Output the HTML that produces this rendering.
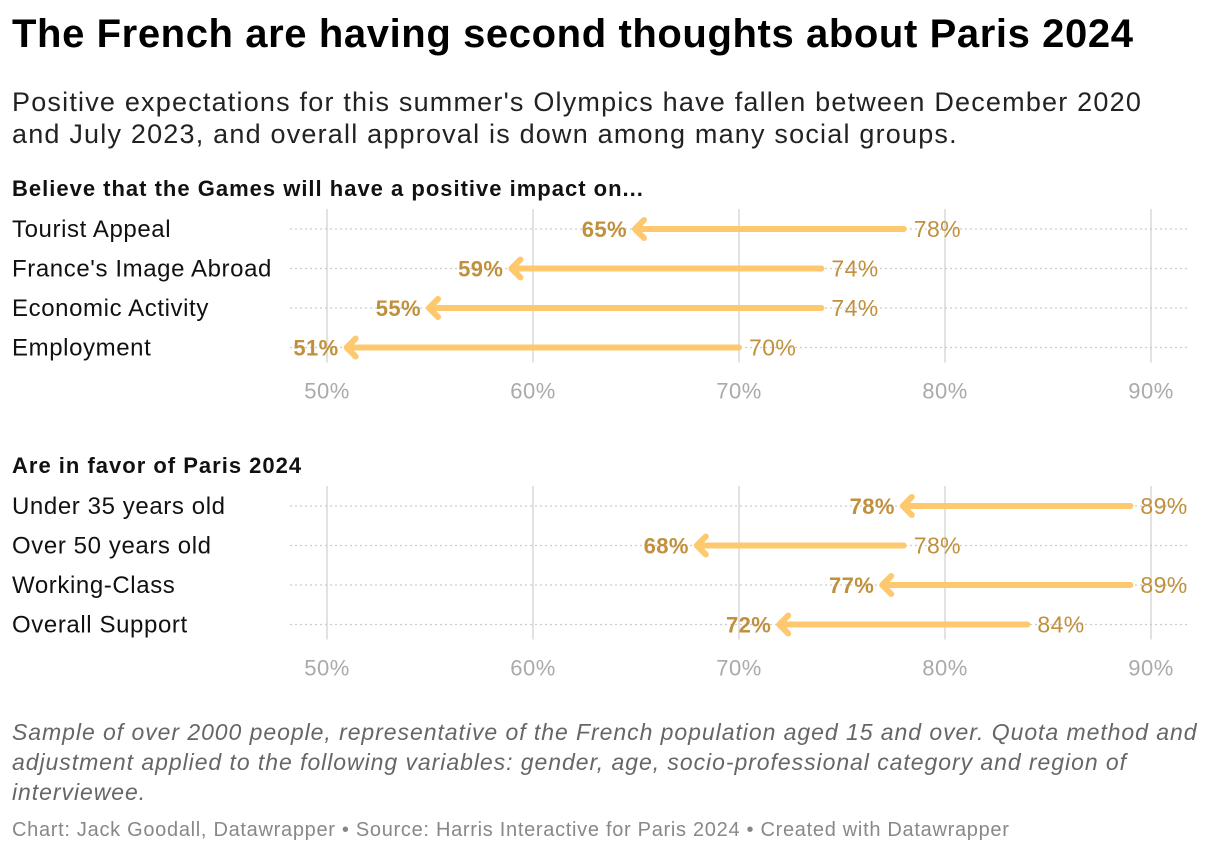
<!DOCTYPE html>
<html><head><meta charset="utf-8"><style>
body{margin:0;width:1220px;height:854px;background:#fff;font-family:"Liberation Sans",sans-serif;overflow:hidden;position:relative}
.t{position:absolute;white-space:nowrap}
</style></head><body>
<div class="t" style="left:12px;top:12px;font-size:40px;letter-spacing:0.6px;font-weight:bold;color:#000">The French are having second thoughts about Paris 2024</div>
<div class="t" style="left:12px;top:86px;font-size:27px;letter-spacing:1.2px;line-height:32px;color:#222">Positive expectations for this summer's Olympics have fallen between December 2020<br>and July 2023, and overall approval is down among many social groups.</div>
<div class="t" style="left:12px;top:717px;font-size:23px;letter-spacing:0.95px;line-height:30px;font-style:italic;color:#666">Sample of over 2000 people, representative of the French population aged 15 and over. Quota method and<br>adjustment applied to the following variables: gender, age, socio-professional category and region of<br>interviewee.</div>
<div class="t" style="left:12px;top:819px;font-size:20px;letter-spacing:0.7px;color:#888">Chart: Jack Goodall, Datawrapper • Source: Harris Interactive for Paris 2024 • Created with Datawrapper</div>
<svg id="c" width="1220" height="854" style="position:absolute;left:0;top:0"></svg>
<script>
const cats1=["Tourist Appeal","France's Image Abroad","Economic Activity","Employment"];
const from1=[78,74,74,70];
const to1=[65,59,55,51];
const cats2=["Under 35 years old","Over 50 years old","Working-Class","Overall Support"];
const from2=[89,78,89,84];
const to2=[78,68,77,72];
const ticks=[50,60,70,80,90];
const titles=["Believe that the Games will have a positive impact on...","Are in favor of Paris 2024"];
const svg=document.getElementById('c');const NS='http://www.w3.org/2000/svg';
const x=v=>327+(v-50)*20.6;
function mk(t,a,p){const e=document.createElementNS(NS,t);for(const k in a)e.setAttribute(k,a[k]);(p||svg).appendChild(e);return e;}
function panel(i,cats,from,to,top){
 const g=mk('g',{});
 
 
 const tt=mk('text',{x:12,y:top-1,'font-size':22,'letter-spacing':1,'font-weight':'bold',fill:'#111'},g);tt.textContent=titles[i];
 
 
 const y0=top+32,step=39.5;
 ticks.forEach(t=>{const l=mk('line',{x1:x(t),x2:x(t),y1:top+12,y2:y0+3*step+15,stroke:'#e2e2e2','stroke-width':2},g);
  
  
  const tx=mk('text',{x:x(t),y:y0+3*step+51,'font-size':22,'letter-spacing':0.5,fill:'#aaa','text-anchor':'middle'},g);tx.textContent=t+'%';
  
  });
 cats.forEach((c,j)=>{const y=y0+j*step;
  const gl=mk('line',{x1:290,x2:1188,y1:y,y2:y,stroke:'#ccc','stroke-width':1.2,'stroke-dasharray':'2 3'},g);
  
  
  const lb=mk('text',{x:12,y:y+8,'font-size':24,'letter-spacing':0.6,fill:'#111'},g);lb.textContent=c;
  
  
  const a=x(from[j]),b=x(to[j])-3;
  const ar=mk('path',{d:`M${a} ${y}H${b+2}M${b+11} ${y-9}L${b+2} ${y}L${b+11} ${y+9}`,stroke:'#fdc86e','stroke-width':6,fill:'none','stroke-linecap':'round','stroke-linejoin':'round'},g);
  
  
  const v1=mk('text',{x:a+10,y:y+8,'font-size':23,'letter-spacing':0.4,fill:'#c0903d'},g);v1.textContent=from[j]+'%';
  
  
  const v2=mk('text',{x:b-6,y:y+8,'font-size':22,'letter-spacing':0.4,'font-weight':'bold',fill:'#c0903d','text-anchor':'end'},g);v2.textContent=to[j]+'%';
  
  
 });
}
panel(0,cats1,from1,to1,197);
panel(1,cats2,from2,to2,474);
</script>
</body></html>
